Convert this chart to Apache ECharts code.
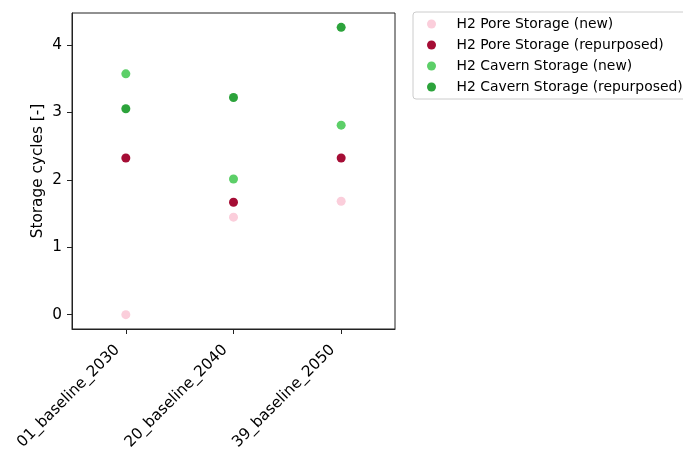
<!DOCTYPE html>
<html>
<head>
<meta charset="utf-8">
<script src="https://cdn.jsdelivr.net/npm/echarts@6/dist/echarts.min.js"></script>
<style>
  html, body { margin: 0; padding: 0; background: #fff; }
  #chart { width: 683px; height: 454px; }
</style>
</head>
<body>
<div id="chart"></div>
<script>
// Scenario categories on the x axis
const scenarios = ['01_baseline_2030', '20_baseline_2040', '39_baseline_2050'];

// Storage cycles per technology and scenario
const poreNew = [0.0, 1.445, 1.682];
const poreRepurposed = [2.322, 1.667, 2.322];
const cavernNew = [3.571, 2.012, 2.81];
const cavernRepurposed = [3.053, 3.22, 4.26];

// y axis tick values
const yTicks = [0, 1, 2, 3, 4];

const FONT = 'DejaVu Sans';
const AXIS_FS = 15.3;
const LEGEND_FS = 13.9;

const seriesDefs = [
  { name: 'H2 Pore Storage (new)', data: poreNew, color: '#fbcedb' },
  { name: 'H2 Pore Storage (repurposed)', data: poreRepurposed, color: '#a50d35' },
  { name: 'H2 Cavern Storage (new)', data: cavernNew, color: '#5ccf68' },
  { name: 'H2 Cavern Storage (repurposed)', data: cavernRepurposed, color: '#2ca33b' }
];

const chart = echarts.init(document.getElementById('chart'), null, { renderer: 'canvas' });

chart.setOption({
  animation: false,
  backgroundColor: '#fff',
  textStyle: { fontFamily: FONT },
  grid: {
    left: 72, top: 13, width: 323, height: 316,
    show: true, borderColor: '#222', borderWidth: 1, backgroundColor: 'transparent'
  },
  legend: {
    orient: 'vertical',
    left: 413, top: 12,
    padding: [5, 6, 5, 14],
    itemWidth: 40, itemHeight: 9, itemGap: 7,
    icon: 'circle',
    backgroundColor: '#fff',
    borderColor: '#cccccc', borderWidth: 1, borderRadius: 3,
    textStyle: { fontFamily: FONT, fontSize: LEGEND_FS, color: '#000', lineHeight: 14 },
    data: seriesDefs.map(s => s.name)
  },
  xAxis: {
    type: 'category',
    data: scenarios,
    boundaryGap: true,
    axisLine: { show: true, onZero: false, lineStyle: { color: '#222', width: 1 } },
    axisTick: { show: true, alignWithLabel: true, length: 5, lineStyle: { color: '#222' } },
    axisLabel: {
      rotate: 45, margin: 10, interval: 0,
      fontFamily: FONT, fontSize: AXIS_FS, color: '#000',
      padding: [0, 12, 0, 0]
    },
    splitLine: { show: false }
  },
  yAxis: {
    type: 'value',
    min: -0.213, max: 4.473,
    name: 'Storage cycles [-]',
    nameLocation: 'middle',
    nameGap: 26,
    nameRotate: 90,
    nameTextStyle: { fontFamily: FONT, fontSize: AXIS_FS, color: '#000' },
    axisLine: { show: true, lineStyle: { color: '#222', width: 1 } },
    axisTick: { show: true, length: 5, customValues: yTicks, lineStyle: { color: '#222' } },
    axisLabel: {
      margin: 10, customValues: yTicks,
      fontFamily: FONT, fontSize: AXIS_FS, color: '#000'
    },
    splitLine: { show: false }
  },
  series: seriesDefs.map(s => ({
    name: s.name,
    type: 'scatter',
    data: s.data,
    symbol: 'circle',
    symbolSize: 9,
    itemStyle: { color: s.color, opacity: 1 },
    emphasis: { disabled: true }
  }))
});
</script>
</body>
</html>
